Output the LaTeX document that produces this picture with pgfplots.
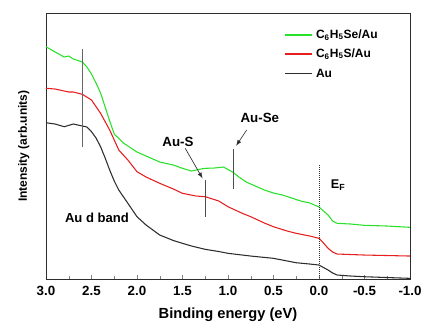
\documentclass[border=0pt]{standalone}
\usepackage{fontspec}
\setmainfont{Liberation Sans}
\usepackage{pgfplots}
\pgfplotsset{compat=1.18}
\definecolor{cgreen}{RGB}{40,225,40}
\definecolor{cred}{RGB}{230,30,30}
\definecolor{cblack}{RGB}{45,45,45}
\begin{document}
\begin{tikzpicture}
\begin{axis}[
  scale only axis, width=273pt, height=199.5pt,
  x dir=reverse, xmin=-1, xmax=3, ymin=0, ymax=266,
  xtick={-1,-0.5,...,3}, minor x tick num=1,
  xtick pos=bottom, ytick=\empty,
  tick align=inside,
  major tick length=3pt, minor tick length=2pt,
  xticklabel style={font=\bfseries\fontsize{10}{12}\selectfont, yshift=-2pt},
  /pgf/number format/assume math mode=true,
  /pgf/number format/.cd, fixed, fixed zerofill, precision=1, /pgfplots/.cd,
  xlabel={\bfseries Binding energy (eV)},
  ylabel={\bfseries Intensity (arb.units)},
  xlabel style={font=\bfseries\fontsize{11}{13}\selectfont, yshift=-2.5pt},
  ylabel style={font=\bfseries\fontsize{9}{11}\selectfont, yshift=9pt},
  axis line style={cblack, line width=0.6pt},
]
\addplot[color=cgreen, line width=0.8pt] coordinates {
(3.0,232.3)(2.9,227)(2.8,222)(2.75,223)(2.7,220)(2.6,217)(2.55,212)(2.5,205)(2.45,196)
(2.4,186)(2.35,172)(2.3,158)(2.25,145)(2.15,136)(2.0,127)(1.9,123)(1.75,117)(1.6,114)(1.5,110.7)
(1.4,108)(1.3,110)(1.25,110.7)(1.15,111)(1.05,112)(0.95,107)(0.88,102)(0.8,97)(0.7,93)(0.6,89)
(0.5,86)(0.4,84)(0.3,81)(0.2,78)(0.1,76)(0.0,72)(-0.05,68)(-0.1,64)(-0.15,58)(-0.2,55.7)
(-0.35,55)(-0.5,53.7)(-0.75,53)(-1.0,51.7)};
\addplot[color=cred, line width=0.8pt] coordinates {
(3.0,190.7)(2.9,190)(2.8,188)(2.75,187)(2.7,187)(2.6,184.7)(2.5,179)(2.4,165.7)(2.3,149)
(2.2,129)(2.1,119)(2.0,107.3)(1.9,102)(1.75,95.7)(1.6,90)(1.5,85.7)(1.35,83)(1.25,82.3)(1.1,78)
(1.0,72.3)(0.85,66)(0.75,62.3)(0.6,56)(0.5,52.3)(0.35,48)(0.25,45.7)(0.1,43)(0.0,40.7)
(-0.05,36)(-0.1,30.7)(-0.15,27)(-0.2,25)(-0.5,24)(-1.0,23)};
\addplot[color=cblack, line width=0.8pt] coordinates {
(3.0,156.3)(2.9,155)(2.8,152.3)(2.7,155)(2.6,153)(2.55,152)(2.5,147.3)(2.45,141)(2.4,132.3)
(2.35,121)(2.3,109)(2.25,98)(2.2,89)(2.1,75.7)(2.0,62.3)(1.9,54)(1.75,44)(1.6,38.5)(1.5,35.7)
(1.4,33)(1.25,29.7)(1.1,27.5)(1.0,25.7)(0.75,23)(0.5,20.7)(0.25,16.3)(0.1,15)(0.0,14)
(-0.05,11.5)(-0.1,9)(-0.15,6)(-0.2,4)(-0.35,3)(-0.5,2.3)(-1.0,0.7)};
% legend samples
\addplot[cgreen, line width=0.8pt] coordinates {(0.37,244)(0.08,244)};
\addplot[cred, line width=0.8pt] coordinates {(0.37,225)(0.08,225)};
\addplot[cblack, line width=0.8pt] coordinates {(0.37,205.7)(0.08,205.7)};
\node[anchor=west, inner sep=0pt, font=\bfseries\fontsize{9}{10}\selectfont] at (axis cs:0.035,244) {C\textsubscript{6}H\textsubscript{5}Se/Au};
\node[anchor=west, inner sep=0pt, font=\bfseries\fontsize{9}{10}\selectfont] at (axis cs:0.035,225) {C\textsubscript{6}H\textsubscript{5}S/Au};
\node[anchor=west, inner sep=0pt, font=\bfseries\fontsize{9}{10}\selectfont] at (axis cs:0.035,205.7) {Au};
% markers
\addplot[gray!80!black, line width=0.7pt] coordinates {(2.6,229.7)(2.6,132.3)};
\addplot[gray!60!black, line width=0.6pt] coordinates {(1.245,99)(1.245,62.3)};
\addplot[gray!60!black, line width=0.6pt] coordinates {(0.94,130)(0.94,90)};
\addplot[cblack, line width=0.5pt, -latex] coordinates {(1.47,130.7)(1.28,100.7)};
\addplot[cblack, line width=0.5pt, -latex] coordinates {(0.795,149)(0.91,133.3)};
\addplot[cblack, line width=0.5pt, densely dotted] coordinates {(0,114)(0,0)};
\node[font=\bfseries\fontsize{10}{12}\selectfont] at (axis cs:1.55,137.3) {Au-S};
\node[font=\bfseries\fontsize{10}{12}\selectfont] at (axis cs:0.65,160.7) {Au-Se};
\node[font=\bfseries\fontsize{9.5}{11}\selectfont] at (axis cs:-0.21,94) {E\textsubscript{F}};
\node[font=\bfseries\fontsize{9.8}{11}\selectfont] at (axis cs:2.44,61.7) {Au d band};
\coordinate (bl) at (rel axis cs:0,0);
\coordinate (tr) at (rel axis cs:1,1);
\end{axis}
\pgfresetboundingbox
\useasboundingbox ([xshift=-34.5pt,yshift=-32.25pt]bl) rectangle ([xshift=9pt,yshift=9.75pt]tr);
\end{tikzpicture}
\end{document}
